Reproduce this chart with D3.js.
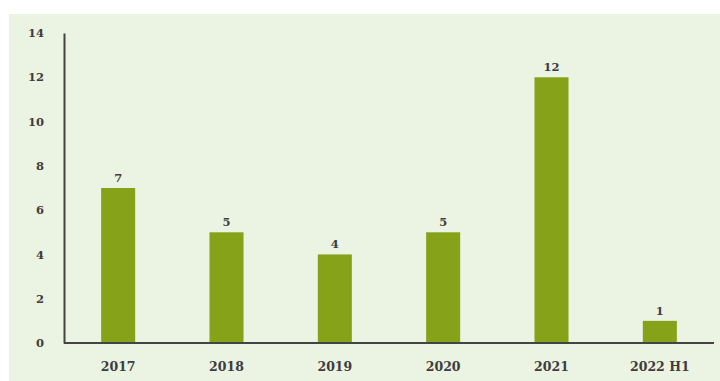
<!DOCTYPE html>
<html>
<head>
<meta charset="utf-8">
<script src="https://cdn.jsdelivr.net/npm/d3@7/dist/d3.min.js"></script>
<style>
  html, body { margin: 0; padding: 0; background: #ffffff; }
  svg { display: block; }
  text { font-family: "DejaVu Serif", "Liberation Serif", serif; font-weight: bold; fill: #3d3d3d; }
</style>
</head>
<body>
<svg id="chart" width="720" height="381"></svg>
<script>
const categories = ["2017", "2018", "2019", "2020", "2021", "2022 H1"];
const values = [7, 5, 4, 5, 12, 1];
const yTicks = [0, 2, 4, 6, 8, 10, 12, 14];

const svg = d3.select("#chart");
const W = 720, H = 381;
const margin = { left: 64, right: 6, top: 33, bottom: 38 };

// panel background
svg.append("rect")
  .attr("x", 9).attr("y", 14)
  .attr("width", W - 9).attr("height", H - 14)
  .attr("fill", "#ebf3e3");

const x = d3.scaleBand()
  .domain(categories)
  .range([margin.left, W - margin.right])
  .paddingInner(0.686)
  .paddingOuter(0.343);

const y = d3.scaleLinear()
  .domain([0, 14])
  .range([H - margin.bottom, margin.top]);

// bars
svg.append("g").selectAll("rect")
  .data(values)
  .join("rect")
  .attr("x", (d, i) => x(categories[i]))
  .attr("y", d => y(d))
  .attr("width", x.bandwidth())
  .attr("height", d => y(0) - y(d))
  .attr("fill", "#86a219");

// value labels
svg.append("g").selectAll("text")
  .data(values)
  .join("text")
  .attr("x", (d, i) => x(categories[i]) + x.bandwidth() / 2)
  .attr("y", d => y(d) - 6)
  .attr("text-anchor", "middle")
  .attr("font-size", 11.5)
  .text(d => d);

// y axis
const yAxis = svg.append("g")
  .attr("transform", `translate(${margin.left},0)`)
  .call(d3.axisLeft(y).tickValues(yTicks).tickSize(0).tickPadding(20));
yAxis.select(".domain").attr("stroke", "#444").attr("stroke-width", 2);
yAxis.selectAll("text").attr("font-size", 11.5).attr("font-family", null).attr("fill", null);

// x axis
const xAxis = svg.append("g")
  .attr("transform", `translate(0,${y(0)})`)
  .call(d3.axisBottom(x).tickSize(0).tickPadding(19));
xAxis.select(".domain").attr("stroke", "#444").attr("stroke-width", 2)
  .attr("d", `M${margin.left},0H${W - margin.right}`);
xAxis.selectAll("text").attr("font-size", 12.5).attr("font-family", null).attr("fill", null);
</script>
</body>
</html>
